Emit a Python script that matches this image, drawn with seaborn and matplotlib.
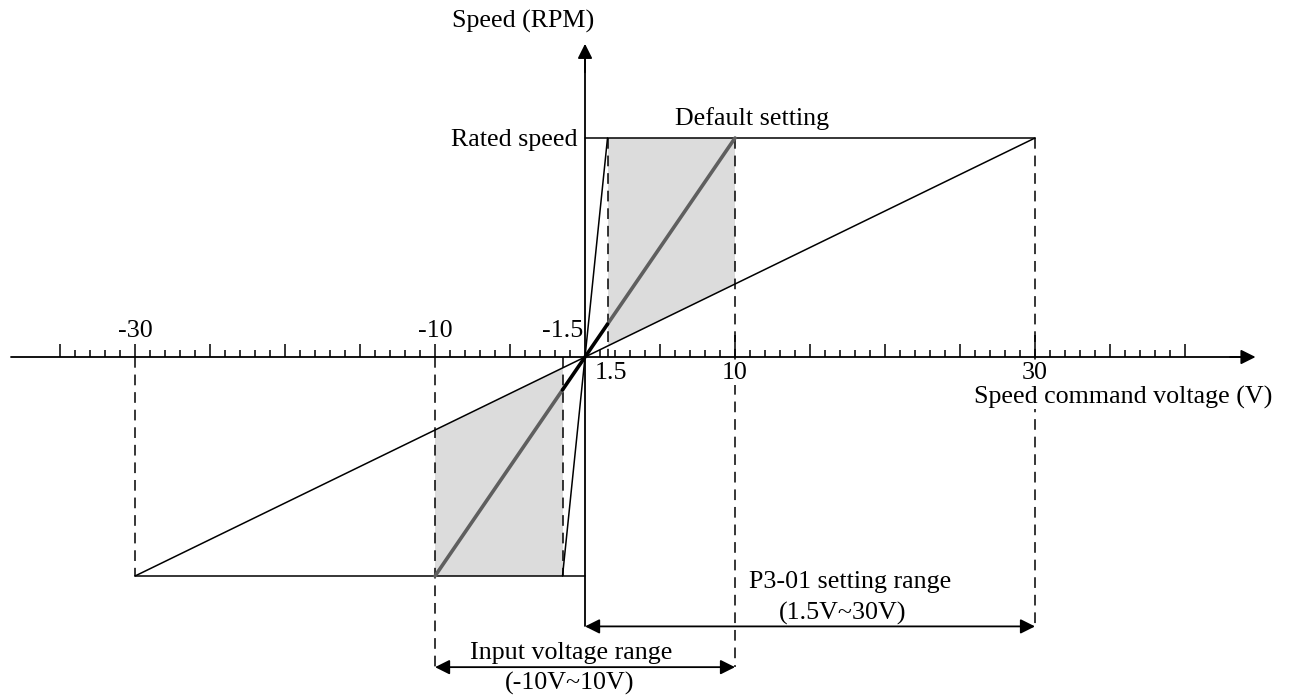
import numpy as np
import pandas as pd
import matplotlib
matplotlib.use('Agg')
import matplotlib.pyplot as plt
import seaborn as sns

# voltage (V) at which each curve reaches rated speed
v_min = 1.5      # P3-01 lower limit
v_default = 10   # default setting
v_max = 30       # P3-01 upper limit
rated = 1.0      # rated speed (normalised)

tick_labels_top = ["-30", "-10", "-1.5"]
tick_pos_top = [-30, -10, -1.5]
tick_labels_bot = ["1.5", "10", "30"]
tick_pos_bot = [1.73, 10, 30]

sns.set_theme(style="white")
plt.rcParams['font.family'] = ['Liberation Serif', 'DejaVu Serif']
plt.rcParams['text.color'] = 'black'
FS = 18.7

fig = plt.figure(figsize=(12.95, 7), dpi=100)
ax = fig.add_axes([0, 0, 1, 1])
ax.set_xlim(-39, 47.33)
ax.set_ylim(-1.566, 1.630)
ax.axis('off')

GRAY = '#dcdcdc'

# shaded regions between the 30V line and the default 10V bounds
def on_line(v, x):
    return rated * x / v

upper = [(v_min, on_line(v_max, v_min)), (v_min, rated), (v_default, rated),
         (v_default, on_line(v_max, v_default))]
lower = [(-x, -y) for x, y in upper]
for poly in (upper, lower):
    xs, ys = zip(*poly)
    ax.fill(xs, ys, color=GRAY, lw=0, zorder=1)

# thin lines: 30V and 1.5V gains
for v in (v_max, v_min):
    sns.lineplot(x=[-v, v], y=[-rated, rated], ax=ax, color='black', lw=1.1,
                 sort=False, zorder=3)

# default (10V) thick line: gray inside shaded area, black near origin
sns.lineplot(x=[-v_default, -v_min], y=[-rated, on_line(v_default, -v_min)], ax=ax,
             color='#5f5f5f', lw=2.6, sort=False, zorder=4)
sns.lineplot(x=[v_min, v_default], y=[on_line(v_default, v_min), rated], ax=ax,
             color='#5f5f5f', lw=2.6, sort=False, zorder=4)
sns.lineplot(x=[-v_min, v_min], y=[on_line(v_default, -v_min), on_line(v_default, v_min)],
             ax=ax, color='black', lw=2.6, sort=False, zorder=4)

# saturation lines
ax.plot([0, v_max], [rated, rated], color='black', lw=1.1, zorder=3)
ax.plot([-v_max, 0], [-rated, -rated], color='black', lw=1.1, zorder=3)

# dashed guides
y_p3 = -1.23
y_in = -1.416
dash = dict(color='black', lw=1.1, ls=(0, (7, 4.5)), zorder=2)
ax.plot([-v_max, -v_max], [0, -rated], **dash)
ax.plot([-v_default, -v_default], [0, y_in], **dash)
ax.plot([-v_min, -v_min], [0, -rated], **dash)
ax.plot([v_min, v_min], [rated, 0], **dash)
ax.plot([v_default, v_default], [rated, y_in], **dash)
ax.plot([v_max, v_max], [rated, y_p3], **dash)

# axes with arrows
ax.plot([0, 0], [y_p3, 1.40], color='black', lw=1.3, zorder=5)
ax.annotate('', xy=(0, 1.43), xytext=(0, 1.3),
            arrowprops=dict(arrowstyle='-|>', color='black', lw=1.3,
                            mutation_scale=22, shrinkA=0, shrinkB=0), zorder=5)
ax.plot([-38.3, 44.0], [0, 0], color='black', lw=1.3, zorder=5)
ax.annotate('', xy=(44.7, 0), xytext=(43.0, 0),
            arrowprops=dict(arrowstyle='-|>', color='black', lw=1.3,
                            mutation_scale=22, shrinkA=0, shrinkB=0), zorder=5)

# tick marks on the voltage axis
ticks = np.arange(-35, 41)
minor = [t for t in ticks if t % 5 != 0]
major = [t for t in ticks if t % 5 == 0 and t not in (0, v_default, v_max)]
ax.vlines(minor, 0, 0.032, color='black', lw=1.1, zorder=5)
ax.vlines(major, 0, 0.058, color='black', lw=1.1, zorder=5)
ax.vlines([v_default, v_max], 0, 0.1, color='black', lw=1.1, zorder=5)

# range arrows
dbl = dict(arrowstyle='<|-|>', color='black', lw=1.3, mutation_scale=22,
           shrinkA=0, shrinkB=0)
ax.annotate('', xy=(0, y_p3), xytext=(v_max, y_p3), arrowprops=dbl)
ax.annotate('', xy=(-v_default, y_in), xytext=(v_default, y_in), arrowprops=dbl)

# texts (white box hides dashed guides behind them)
box = dict(facecolor='white', edgecolor='none', pad=0.5)
ax.text(-4.13, 1.53, 'Speed (RPM)', ha='center', va='center', fontsize=FS)
ax.text(-0.47, 0.99, 'Rated speed', ha='right', va='center', fontsize=FS)
ax.text(11.13, 1.09, 'Default setting', ha='center', va='center', fontsize=FS)
for p, l in zip(tick_pos_top, tick_labels_top):
    ax.text(p, 0.12, l, ha='center', va='center', fontsize=FS)
for p, l in zip(tick_pos_bot, tick_labels_bot):
    ax.text(p, -0.075, l, ha='center', va='center', fontsize=FS, bbox=box, zorder=6)
ax.text(35.9, -0.183, 'Speed command voltage (V)', ha='center', va='center',
        fontsize=FS, bbox=box, zorder=6)
ax.text(17.67, -1.027, 'P3-01 setting range', ha='center', va='center', fontsize=FS)
ax.text(17.2, -1.172, '(1.5V~30V)', ha='center', va='center', fontsize=FS)
ax.text(-0.93, -1.352, 'Input voltage range', ha='center', va='center', fontsize=FS)
ax.text(-1.0, -1.49, '(-10V~10V)', ha='center', va='center', fontsize=FS)

fig.savefig('out.png', dpi=100, facecolor='white')
plt.close(fig)
